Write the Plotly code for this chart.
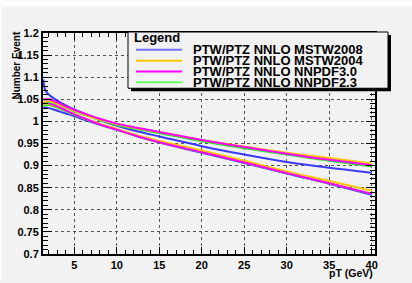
import plotly.graph_objects as go

# ---------------- data ----------------
pt = [1.35, 1.6, 2, 3, 4, 5, 6, 8, 10, 12.5, 15, 20, 25, 30, 35, 40]

# upper family (flatter)
mstw2008_a = [1.095, 1.070, 1.061, 1.047, 1.036, 1.027, 1.019, 1.003, 0.990, 0.977, 0.966, 0.944, 0.925, 0.908, 0.895, 0.884]
mstw2004_a = [1.045, 1.045, 1.046, 1.040, 1.032, 1.024, 1.017, 1.004, 0.994, 0.984, 0.976, 0.958, 0.943, 0.929, 0.917, 0.905]
nnpdf30_a = [1.050, 1.050, 1.050, 1.043, 1.034, 1.026, 1.019, 1.006, 0.995, 0.985, 0.976, 0.958, 0.942, 0.927, 0.913, 0.901]
nnpdf23_a = [1.040, 1.041, 1.044, 1.039, 1.031, 1.023, 1.016, 1.003, 0.992, 0.982, 0.973, 0.955, 0.939, 0.925, 0.911, 0.898]

# lower family (steeper)
mstw2008_b = [1.032, 1.031, 1.030, 1.024, 1.018, 1.012, 1.005, 0.993, 0.982, 0.966, 0.953, 0.929, 0.906, 0.882, 0.859, 0.834]
mstw2004_b = [1.040, 1.040, 1.040, 1.033, 1.025, 1.017, 1.009, 0.995, 0.983, 0.968, 0.956, 0.934, 0.911, 0.887, 0.865, 0.843]
nnpdf30_b = [1.042, 1.042, 1.041, 1.034, 1.025, 1.016, 1.008, 0.993, 0.981, 0.966, 0.953, 0.930, 0.907, 0.883, 0.860, 0.836]
nnpdf23_b = [1.036, 1.036, 1.037, 1.031, 1.023, 1.015, 1.007, 0.993, 0.981, 0.966, 0.953, 0.930, 0.907, 0.883, 0.860, 0.836]

legend_labels = ["PTW/PTZ NNLO MSTW2008", "PTW/PTZ NNLO MSTW2004",
                 "PTW/PTZ NNLO NNPDF3.0", "PTW/PTZ NNLO NNPDF2.3"]
colors = ["#3a3aff", "#ffc400", "#ff00ff", "#33e633"]
legend_colors = ["#7070ff", "#ffc400", "#ff00ff", "#66ff66"]

x_ticks = [5, 10, 15, 20, 25, 30, 35, 40]
y_ticks = [0.7, 0.75, 0.8, 0.85, 0.9, 0.95, 1.0, 1.05, 1.1, 1.15, 1.2]
y_labels = ["0.7", "0.75", "0.8", "0.85", "0.9", "0.95", "1", "1.05", "1.1", "1.15", "1.2"]

# ---------------- figure ----------------
W, H = 412, 283
L, R, T, B = 43, 37, 33, 26
pw, ph = W - L - R, H - T - B

def px(x):
    return (x - L) / pw

def py(y):
    return (H - B - y) / ph

fig = go.Figure()
series_b = [mstw2008_b, mstw2004_b, nnpdf30_b, nnpdf23_b]
series_a = [mstw2008_a, mstw2004_a, nnpdf30_a, nnpdf23_a]
order = [0, 3, 1, 2]
for i in order:
    fig.add_trace(go.Scatter(x=pt, y=series_b[i], mode="lines",
                             line=dict(color=colors[i], width=2, shape="spline"),
                             showlegend=False, name=legend_labels[i]))
for i in order:
    fig.add_trace(go.Scatter(x=pt, y=series_a[i], mode="lines",
                             line=dict(color=colors[i], width=2, shape="spline"),
                             showlegend=False, name=legend_labels[i]))

bold = dict(family="Liberation Sans, Arial, sans-serif", color="black", weight="bold")

fig.update_xaxes(range=[1.32, 40.39], tickvals=x_ticks, ticks="inside", ticklen=7,
                 tickwidth=1, tickcolor="black", showline=True, linecolor="black",
                 linewidth=2, mirror="ticks", showgrid=True, gridcolor="#555555",
                 griddash="dot", gridwidth=1, zeroline=False,
                 tickfont=dict(size=11, **bold),
                 minor=dict(dtick=1, tick0=0, ticks="inside", ticklen=4,
                            tickcolor="black", showgrid=False))
fig.update_yaxes(range=[0.7, 1.2], tickvals=y_ticks, ticktext=y_labels,
                 ticks="inside", ticklen=9, tickwidth=1, tickcolor="black",
                 showline=True, linecolor="black", linewidth=2, mirror="ticks",
                 showgrid=True, gridcolor="#555555", griddash="dot", gridwidth=1,
                 zeroline=False, tickfont=dict(size=11, **bold),
                 minor=dict(dtick=0.01, tick0=0, ticks="inside", ticklen=5,
                            tickcolor="black", showgrid=False))

shapes = []
# canvas border highlights
shapes.append(dict(type="rect", xref="paper", yref="paper", x0=px(0), x1=px(W),
                   y0=py(6), y1=py(0), fillcolor="white", line=dict(width=0), layer="below"))
shapes.append(dict(type="rect", xref="paper", yref="paper", x0=px(0), x1=px(2),
                   y0=py(H), y1=py(0), fillcolor="white", line=dict(width=0), layer="below"))
# legend shadow and box
shapes.append(dict(type="rect", xref="paper", yref="paper", x0=px(131), x1=px(391),
                   y0=py(92), y1=py(35), fillcolor="black", line=dict(width=0), layer="above"))
shapes.append(dict(type="rect", xref="paper", yref="paper", x0=px(128), x1=px(388),
                   y0=py(89), y1=py(32), fillcolor="#f2f2f2",
                   line=dict(color="black", width=1), layer="above"))
annotations = [dict(text="Legend", xref="paper", yref="paper", x=px(132), y=py(37.5),
                    xanchor="left", yanchor="middle", showarrow=False,
                    font=dict(size=13, **bold))]
rows = [50, 61, 72, 83]
for i in range(4):
    shapes.append(dict(type="line", xref="paper", yref="paper", x0=px(136), x1=px(182),
                       y0=py(rows[i]), y1=py(rows[i]),
                       line=dict(color=legend_colors[i], width=2), layer="above"))
    annotations.append(dict(text=legend_labels[i], xref="paper", yref="paper",
                            x=px(191), y=py(rows[i]), xanchor="left", yanchor="middle",
                            showarrow=False, font=dict(size=13, **bold)))

annotations.append(dict(text="Number Event", xref="paper", yref="paper", x=px(17),
                        y=py(66), textangle=-90, xanchor="center", yanchor="middle",
                        showarrow=False, font=dict(size=10, **bold)))
annotations.append(dict(text="pT (GeV)", xref="paper", yref="paper", x=px(375),
                        y=py(276), xanchor="right", yanchor="middle",
                        showarrow=False, font=dict(size=10.5, **bold)))

fig.update_layout(width=W, height=H, margin=dict(l=L, r=R, t=T, b=B),
                  paper_bgcolor="#f2f2f2", plot_bgcolor="#f2f2f2",
                  shapes=shapes, annotations=annotations, showlegend=False)

fig.write_html("out.html", config={"displayModeBar": False},
               post_script="document.body.style.margin='0';document.body.style.padding='0';")
